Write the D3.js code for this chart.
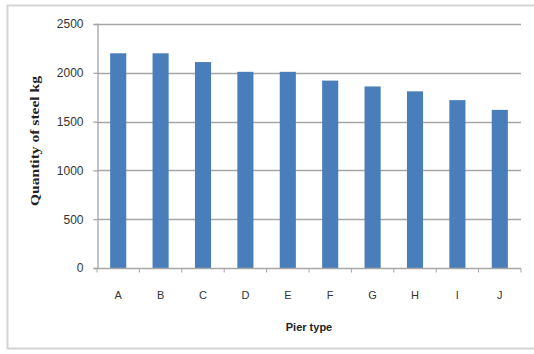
<!DOCTYPE html>
<html>
<head>
<meta charset="utf-8">
<script src="https://cdn.jsdelivr.net/npm/d3@7"></script>
<style>
  html, body { margin: 0; padding: 0; background: #fff; }
  svg { display: block; }
</style>
</head>
<body>
<svg id="chart" width="534" height="354"></svg>
<script>
// Steel quantity per pier type
const categories = ["A", "B", "C", "D", "E", "F", "G", "H", "I", "J"];
const steelKg = [2200, 2200, 2110, 2010, 2010, 1920, 1860, 1810, 1720, 1620];
const yTicks = [0, 500, 1000, 1500, 2000, 2500];

const svg = d3.select("#chart");
const plot = { left: 97, right: 521, top: 24, bottom: 268 };
const sans = "'Liberation Sans', Arial, sans-serif";

// Outer chart frame
svg.append("rect")
  .attr("x", 7.5).attr("y", 5.5)
  .attr("width", 540).attr("height", 343)
  .attr("fill", "#fff")
  .attr("stroke", "#d4d4d4").attr("stroke-width", 2);

const x = d3.scaleBand()
  .domain(categories)
  .range([plot.left, plot.right])
  .paddingInner(0.62).paddingOuter(0.31);

const y = d3.scaleLinear()
  .domain([0, 2500])
  .range([plot.bottom, plot.top]);

// Horizontal gridlines
svg.append("g")
  .selectAll("line")
  .data(yTicks.filter(t => t > 0))
  .join("line")
  .attr("x1", plot.left).attr("x2", plot.right)
  .attr("y1", d => Math.round(y(d)) + 0.5).attr("y2", d => Math.round(y(d)) + 0.5)
  .attr("stroke", "#a6a6a6").attr("stroke-width", 1.3);

// Y axis
const yAxis = svg.append("g")
  .attr("transform", `translate(${plot.left + 0.5},0)`)
  .call(d3.axisLeft(y).tickValues(yTicks).tickSize(4).tickPadding(10).tickFormat(d3.format("d")));
yAxis.select(".domain").attr("stroke", "#a6a6a6").attr("stroke-width", 1.3);
yAxis.selectAll(".tick line").attr("stroke", "#a6a6a6").attr("stroke-width", 1.3);
yAxis.selectAll(".tick text")
  .attr("fill", "#333")
  .style("font-family", sans)
  .style("font-size", "12px");

// Bars
svg.append("g")
  .selectAll("rect")
  .data(categories.map((c, i) => ({ c, v: steelKg[i] })))
  .join("rect")
  .attr("x", d => x(d.c))
  .attr("width", x.bandwidth())
  .attr("y", d => y(d.v))
  .attr("height", d => y(0) - y(d.v))
  .attr("fill", "#4a7ebb");

// X axis with tick marks between categories
const step = x.step();
const xAxis = svg.append("g").attr("transform", `translate(0,${plot.bottom + 0.5})`);
xAxis.append("line")
  .attr("x1", plot.left).attr("x2", plot.right)
  .attr("stroke", "#a6a6a6").attr("stroke-width", 1.3);
xAxis.selectAll("line.sep")
  .data(d3.range(categories.length + 1))
  .join("line")
  .attr("class", "sep")
  .attr("x1", i => plot.left + i * step).attr("x2", i => plot.left + i * step)
  .attr("y1", 0).attr("y2", 4)
  .attr("stroke", "#a6a6a6").attr("stroke-width", 1);
xAxis.selectAll("text")
  .data(categories)
  .join("text")
  .attr("x", d => x(d) + x.bandwidth() / 2)
  .attr("y", 30)
  .attr("text-anchor", "middle")
  .attr("fill", "#333")
  .style("font-family", sans)
  .style("font-size", "11px")
  .text(d => d);

// Axis titles
svg.append("text")
  .attr("x", (plot.left + plot.right) / 2)
  .attr("y", 331)
  .attr("text-anchor", "middle")
  .attr("fill", "#222")
  .style("font-family", sans)
  .style("font-size", "11px")
  .style("font-weight", "bold")
  .text("Pier type");

svg.append("text")
  .attr("transform", "translate(39,141) rotate(-90)")
  .attr("text-anchor", "middle")
  .attr("fill", "#222")
  .attr("textLength", 130)
  .attr("lengthAdjust", "spacingAndGlyphs")
  .style("font-family", "'Liberation Serif', 'Times New Roman', serif")
  .style("font-size", "12px")
  .style("font-weight", "bold")
  .text("Quantity of steel kg");
</script>
</body>
</html>
